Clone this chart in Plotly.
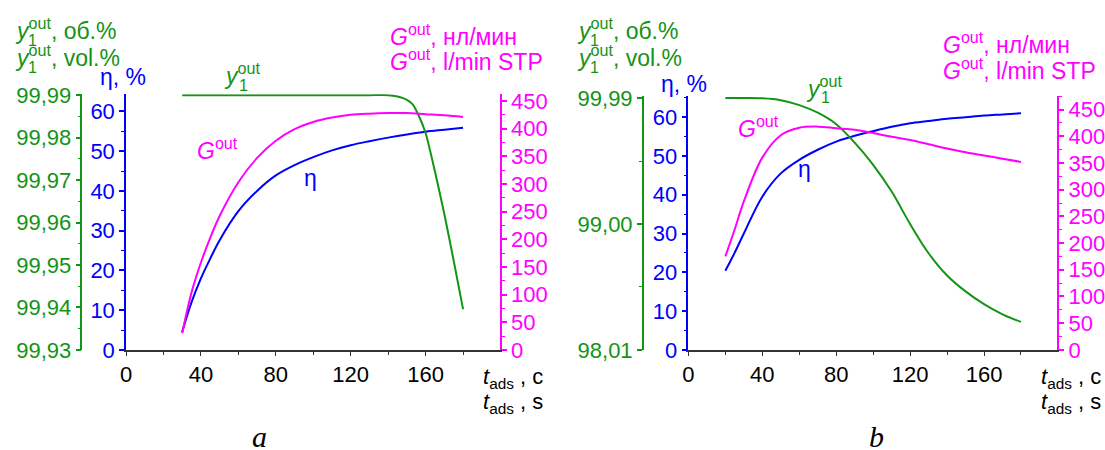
import plotly.graph_objects as go

W, H = 1105, 450

# ---------------- data: panel a ----------------
t_a = [30, 35, 40, 45, 50, 60, 70, 80, 90, 100, 110, 120, 130, 140, 150, 160, 170, 180]
eta_a = [4.5, 12.0, 18.0, 23.0, 27.6, 34.9, 40.0, 43.9, 46.5, 48.5, 50.2, 51.5, 52.5, 53.4, 54.2, 54.9, 55.4, 55.9]
G_a = [30, 104, 158, 203, 242, 303, 347, 378, 399, 412, 420, 425, 427, 428, 428, 426, 424, 421]
t_ya = [30, 60, 100, 130, 140, 145, 148, 150, 153, 156, 160, 165, 170, 175, 180]
y1_a = [99.99, 99.99, 99.99, 99.99, 99.99, 99.9897, 99.9893, 99.9889, 99.9879, 99.9855, 99.9811,
        99.9720, 99.9620, 99.9510, 99.9396]

# ---------------- data: panel b ----------------
t_b = [20, 25, 30, 40, 50, 60, 70, 80, 90, 100, 110, 120, 130, 140, 150, 160, 170, 180]
eta_b = [20.4, 25.0, 30.0, 39.5, 45.5, 49.0, 51.6, 53.7, 55.2, 56.4, 57.5, 58.4, 59.0, 59.6, 60.0, 60.4, 60.7, 61.0]
G_b = [175, 225, 278, 360, 402, 416, 418, 415, 412, 406, 399, 393, 385, 377, 370, 364, 358, 352]
y1_b = [99.99, 99.99, 99.99, 99.988, 99.973, 99.935, 99.875, 99.785, 99.64, 99.465, 99.255, 99.0,
        98.77, 98.595, 98.47, 98.37, 98.29, 98.23]

GREEN = "#149414"
BLUE = "#0000ff"
MAG = "#ff00ff"
FONT = "Liberation Sans"
FS = 22   # tick labels
TS = 23   # axis titles


def px(x):
    return x / W


def py(y):
    return 1 - y / H


fig = go.Figure()

# panel a
fig.add_trace(go.Scatter(x=t_a, y=eta_a, mode="lines", line=dict(color=BLUE, width=2, shape="spline"),
                         xaxis="x", yaxis="y"))
fig.add_trace(go.Scatter(x=t_ya, y=y1_a, mode="lines", line=dict(color=GREEN, width=2, shape="spline", smoothing=0.6),
                         xaxis="x", yaxis="y2"))
fig.add_trace(go.Scatter(x=t_a, y=G_a, mode="lines", line=dict(color=MAG, width=2, shape="spline"),
                         xaxis="x", yaxis="y3"))
# panel b
fig.add_trace(go.Scatter(x=t_b, y=eta_b, mode="lines", line=dict(color=BLUE, width=2, shape="spline"),
                         xaxis="x2", yaxis="y4"))
fig.add_trace(go.Scatter(x=t_b, y=y1_b, mode="lines", line=dict(color=GREEN, width=2, shape="spline"),
                         xaxis="x2", yaxis="y5"))
fig.add_trace(go.Scatter(x=t_b, y=G_b, mode="lines", line=dict(color=MAG, width=2, shape="spline"),
                         xaxis="x2", yaxis="y6"))

dom_a_y = [py(358), py(88)]
dom_b_y = [py(358), py(90)]


def yax(color, rng, dtick, minor, dom, **kw):
    d = dict(range=rng, dtick=dtick, domain=dom, showline=True, linecolor=color, linewidth=1.5,
             ticks="outside", ticklen=5, tickcolor=color, tickwidth=1.5,
             tickfont=dict(color=color, size=FS, family=FONT), showgrid=False, zeroline=False,
             minor=dict(dtick=minor, ticks="outside", ticklen=3, tickcolor=color, tickwidth=1.2))
    d.update(kw)
    return d


def xax(dom, anchor):
    return dict(domain=dom, range=[0, 199.7], tick0=0, dtick=40, showline=True, linecolor="#333",
                linewidth=1.5, ticks="outside", ticklen=4, tickcolor="#333",
                tickfont=dict(color="black", size=FS, family=FONT), showgrid=False, zeroline=False,
                anchor=anchor,
                minor=dict(dtick=20, ticks="outside", ticklen=3, tickcolor="#333"))


fig.update_layout(
    width=W, height=H, margin=dict(l=0, r=0, t=0, b=0),
    paper_bgcolor="white", plot_bgcolor="white", showlegend=False,
    separators=", ",
    font=dict(family=FONT, size=FS),
    xaxis=xax([px(121), px(498)], "y"),
    xaxis2=xax([px(688), px(1060)], "y4"),
    yaxis=yax(BLUE, [0, 64.3], 10, 5, dom_a_y, anchor="x", side="left", tick0=0),
    yaxis2=yax(GREEN, [99.93, 99.9902], 0.01, 0.005, dom_a_y, anchor="free", overlaying="y",
               side="left", position=px(76), tick0=99.93, tickformat=".2f"),
    yaxis3=yax(MAG, [0, 462], 50, 25, dom_a_y, anchor="x", overlaying="y", side="right", tick0=0),
    yaxis4=yax(BLUE, [0, 65.4], 10, 5, dom_b_y, anchor="x2", side="left", tick0=0),
    yaxis5=yax(GREEN, [98.01, 100.005], 0.99, 0.495, dom_b_y, anchor="free", overlaying="y4",
               side="left", position=px(642), tick0=98.01, tickformat=".2f"),
    yaxis6=yax(MAG, [0, 475], 50, 25, dom_b_y, anchor="x2", overlaying="y4", side="right", tick0=0),
)


def ann(text, x, y, color="black", size=TS, xanchor="left", yanchor="middle", family=FONT):
    fig.add_annotation(text=text, x=px(x), y=py(y), xref="paper", yref="paper", showarrow=False,
                       xanchor=xanchor, yanchor=yanchor, font=dict(color=color, size=size, family=family))


# axis title labels - panel a
ann("<i>y</i><sup>out</sup>, об.%", 7, 19, GREEN)
ann("1", 20, 31, GREEN, size=16)
ann("<i>y</i><sup>out</sup>, vol.%", 7, 48, GREEN)
ann("1", 20, 60, GREEN, size=16)
ann("η, %", 93, 70, BLUE)
ann("<i>G</i><sup>out</sup>, нл/мин", 385, 25, MAG)
ann("<i>G</i><sup>out</sup>, l/min STP", 385, 52, MAG)
ann("<i>t</i><sub>ads</sub> , с", 479, 388, "black", size=FS)
ann("<i>t</i><sub>ads</sub> , s", 479, 414, "black", size=FS)
# curve labels - panel a
ann("<i>y</i><sup>out</sup>", 218, 67, GREEN)
ann("1", 233, 79, GREEN, size=16)
ann("<i>G</i><sup>out</sup>", 191, 146, MAG)
ann("η", 298, 176, BLUE)
ann("<i>a</i>", 256, 449, "black", size=30, xanchor="center", family="Liberation Serif")

# panel b
ann("<i>y</i><sup>out</sup>, об.%", 574, 19, GREEN)
ann("1", 587, 31, GREEN, size=16)
ann("<i>y</i><sup>out</sup>, vol.%", 574, 48, GREEN)
ann("1", 587, 60, GREEN, size=16)
ann("η, %", 658, 77, BLUE)
ann("<i>G</i><sup>out</sup>, нл/мин", 943, 34, MAG)
ann("<i>G</i><sup>out</sup>, l/min STP", 943, 61, MAG)
ann("<i>t</i><sub>ads</sub> , с", 1041, 388, "black", size=FS)
ann("<i>t</i><sub>ads</sub> , s", 1041, 414, "black", size=FS)
ann("<i>y</i><sup>out</sup>", 805, 80, GREEN)
ann("1", 820, 91, GREEN, size=16)
ann("<i>G</i><sup>out</sup>", 736, 123, MAG)
ann("η", 796, 167, BLUE)
ann("<i>b</i>", 878, 449, "black", size=30, xanchor="center", family="Liberation Serif")

fig.write_html("out.html")
